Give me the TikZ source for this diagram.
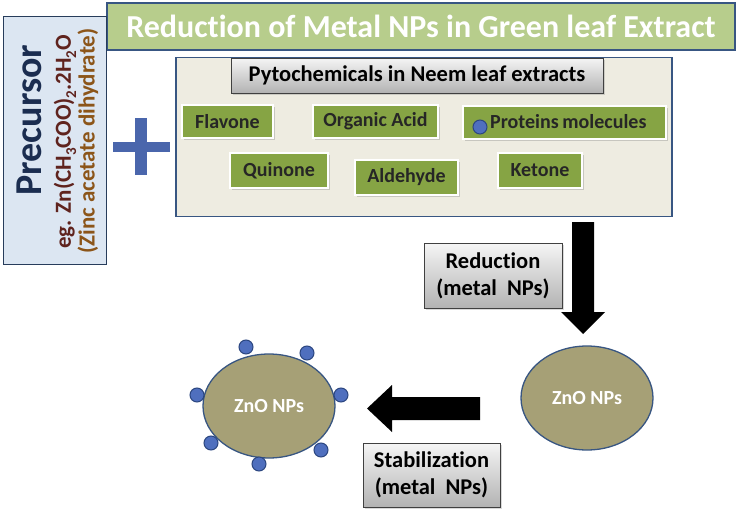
\documentclass[tikz,border=0pt]{standalone}
\usepackage{fontspec}
\setmainfont{Carlito}[Ligatures={NoCommon,NoContextual}]
\usetikzlibrary{shadows,arrows.meta,shapes.geometric}
\definecolor{titlefill}{RGB}{183,205,140}
\definecolor{bordblue}{RGB}{56,86,130}
\definecolor{precfill}{RGB}{220,230,242}
\definecolor{prectext}{RGB}{27,45,80}
\definecolor{egtext}{RGB}{95,35,30}
\definecolor{zinctext}{RGB}{140,85,25}
\definecolor{plusblue}{RGB}{74,102,172}
\definecolor{mainfill}{RGB}{238,236,225}
\definecolor{leafgreen}{RGB}{134,164,68}
\definecolor{npfill}{RGB}{166,160,118}
\definecolor{dotfill}{RGB}{79,111,190}
\definecolor{dotbord}{RGB}{44,71,128}
\newcommand{\sbs}[1]{\raisebox{-0.22em}{\fontsize{15}{15}\selectfont #1}}
\tikzset{
  chembox/.style={draw=white, line width=2pt, fill=leafgreen, font=\bfseries\fontsize{20}{22}\selectfont, text=black!85, inner sep=0pt, drop shadow={opacity=0.35, shadow xshift=1.5pt, shadow yshift=-1.5pt}},
  graybox/.style={draw=black!75, line width=0.7pt, top color=black!4, bottom color=black!30, font=\bfseries\fontsize{22.5}{27}\selectfont, align=center, inner sep=0pt, drop shadow={opacity=0.3, shadow xshift=1.5pt, shadow yshift=-1.5pt}},
  npell/.style={draw=bordblue, line width=1.3pt, fill=npfill, ellipse, text=white, font=\bfseries\fontsize{20}{22}\selectfont},
  capdot/.style={circle, draw=dotbord, line width=1pt, fill=dotfill, minimum size=14pt, inner sep=0pt}
}
\begin{document}
\begin{tikzpicture}[x=1pt,y=-1pt]
\useasboundingbox (0,0) rectangle (737,514);
% title
\node[draw=bordblue, line width=1.3pt, fill=titlefill, minimum width=628pt, minimum height=47pt, inner sep=0pt, text=white, font=\bfseries\fontsize{32}{34}\selectfont] (title) at (421,26.5) {Reduction of Metal NPs in Green leaf Extract};
% precursor
\node[draw=bordblue!70!black, line width=1pt, fill=precfill, minimum width=103pt, minimum height=248pt, inner sep=0pt] (prec) at (55,140) {};
\node[rotate=90, text=prectext, font=\bfseries\fontsize{38}{40}\selectfont] (prectxt) at (29,120) {Precursor};
\node[rotate=90, text=egtext, font=\bfseries\fontsize{23}{25}\selectfont] (egtxt) at (65,142) {eg. Zn(CH\sbs{3}COO)\sbs{2}.2H\sbs{2}O};
\node[rotate=90, text=zinctext, font=\bfseries\fontsize{23}{25}\selectfont] (zinctxt) at (88,141) {(Zinc acetate dihydrate)};
% plus
\fill[plusblue] (113,142) rectangle (170,152);
\fill[plusblue] (135,118) rectangle (147,175);
% main box
\node[draw=bordblue, line width=1.3pt, fill=mainfill, minimum width=496pt, minimum height=159pt, inner sep=0pt] (main) at (424,137) {};
\node[graybox, minimum width=372pt, minimum height=35pt] (pyto) at (417,75.5) {Pytochemicals in Neem leaf extracts};
% chemical boxes
\node[chembox, minimum width=91pt, minimum height=33pt] (flav) at (227.5,121.5) {Flavone};
\node[chembox, minimum width=125pt, minimum height=33pt] (orga) at (375.5,121.5) {Organic Acid};
\node[chembox, minimum width=203pt, minimum height=33pt] (prot) at (564.5,122.5) {};
\node[capdot] (protdot) at (480,127) {};
\node[anchor=west, font=\bfseries\fontsize{20}{22}\selectfont, text=black!85, inner sep=0pt] (prottxt) at (490,121.5) {Proteins\hspace{0.18em}molecules};
\node[chembox, minimum width=98pt, minimum height=35pt] (quin) at (279,170.5) {Quinone};
\node[chembox, minimum width=103pt, minimum height=35pt] (alde) at (406.5,177.5) {Aldehyde};
\node[chembox, minimum width=84pt, minimum height=35pt] (keto) at (540,170.5) {Ketone};
% down arrow
\fill[black] (572,222) -- (594,222) -- (594,312) -- (605,312) -- (583,334) -- (561,312) -- (572,312) -- cycle;
\node[graybox, minimum width=138pt, minimum height=65pt] (red) at (493,275.5) {Reduction\\(metal~ NPs)};
% ZnO right
\node[npell, minimum width=132pt, minimum height=104pt] (zn1) at (587,398) {ZnO NPs};
% left arrow
\fill[black] (480,397) -- (480,420) -- (392,420) -- (392,432) -- (367,408.5) -- (392,385) -- (392,397) -- cycle;
\node[graybox, minimum width=137pt, minimum height=64pt] (stab) at (431.5,475) {Stabilization\\(metal~ NPs)};
% ZnO left
\node[npell, minimum width=132pt, minimum height=104pt] (zn2) at (269,406) {ZnO NPs};
\node[capdot] (d1) at (246,347) {};
\node[capdot] (d2) at (307,353) {};
\node[capdot] (d3) at (197,395) {};
\node[capdot] (d4) at (341,395) {};
\node[capdot] (d5) at (211,443) {};
\node[capdot] (d6) at (321,450) {};
\node[capdot] (d7) at (259,464) {};
\end{tikzpicture}
\end{document}
